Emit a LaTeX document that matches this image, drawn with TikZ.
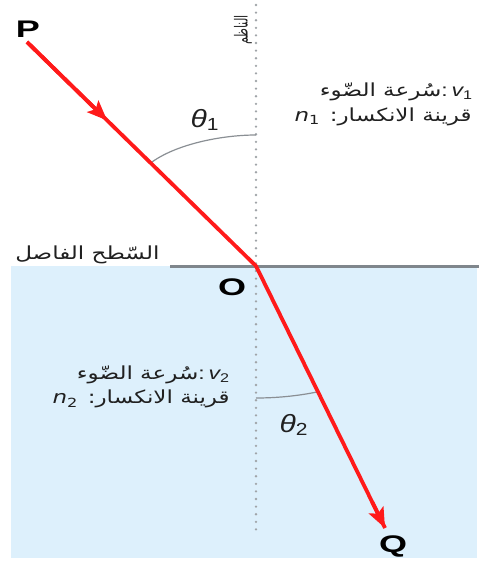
\documentclass[tikz,border=0pt]{standalone}
\usepackage{fontspec}
\setmainfont{Liberation Sans}
\newfontfamily\arabicfont[Script=Arabic]{DejaVu Sans}
\TeXXeTstate=1
\usetikzlibrary{arrows.meta,calc}
\definecolor{water}{HTML}{DDF0FC}
\definecolor{raycol}{HTML}{FF1A1A}
\definecolor{surf}{HTML}{7F868C}
\definecolor{arcg}{HTML}{8A8F94}
\definecolor{dotg}{HTML}{A0A4A8}
\definecolor{txt}{HTML}{202020}
\newcommand\artext[1]{{\arabicfont\beginR #1\endR}}
\newcommand\symb[2]{{\itshape #1}\textsubscript{#2}}
\tikzset{
  rayline/.style={raycol, line width=3.8pt},
  tip/.style={-{Stealth[length=20pt,width=16pt,inset=4pt]}},
  ptlabel/.style={font=\fontsize{24}{24}\selectfont\bfseries, inner sep=0pt, xscale=1.5},
  anglabel/.style={font=\fontsize{25}{25}\selectfont, text=txt, inner sep=0pt, xscale=1.2},
  artxt/.style={font=\fontsize{18}{18}\selectfont, text=txt, inner sep=0pt, xscale=1.28},
  anglearc/.style={arcg, line width=1.2pt},
  normalline/.style={dotg, line width=2.6pt, line cap=round, dash pattern=on 0pt off 7.6pt}
}
\begin{document}
\begin{tikzpicture}[x=1pt,y=-1pt]
\useasboundingbox (0,0) rectangle (479,563);
% lower medium
\fill[water] (11,266) rectangle (477,558);
% interface
\draw[surf, line width=3pt] (170,266) -- (479,266);
% normal
\draw[normalline] (256,5) -- (256,532);
% ray points
\coordinate (S) at (27,42);
\coordinate (O) at (256,266);
\coordinate (E) at (385,528);
\coordinate (M) at ($(S)!0.35!(O)$);
% angle arcs
\coordinate (N1) at (256,135);
\coordinate (R1) at ($(S)!0.54!(O)$);
\draw[anglearc] (N1) .. controls (222,135) and (176,144) .. (R1);
\coordinate (N2) at (256,398);
\coordinate (R2) at ($(O)!0.48!(E)$);
\draw[anglearc] (N2) .. controls (276,398) and (298,396) .. (R2);
% rays
\draw[rayline] (S) -- (O) -- (E);
\draw[rayline, tip] (S) -- (M);
\draw[rayline, tip] ($(O)!0.9!(E)$) -- (E);
% point labels
\node[ptlabel] (P) at (28,29) {P};
\node[ptlabel] (Ol) at (232,287) {O};
\node[ptlabel] (Q) at (393,546) {Q};
% angle labels
\node[anglabel] (t1) at (205,120) {\symb{θ}{1}};
\node[anglabel] (t2) at (294,425) {\symb{θ}{2}};
% Arabic texts
\node[artxt, anchor=east] (v1) at (473,92) {\artext{سُرعة الضّوء}:\,\symb{v}{1}};
\node[artxt, anchor=east] (n1) at (472,117) {\artext{قرينة الانكسار: \beginL\symb{n}{1}\endL}};
\node[artxt, anchor=east] (v2) at (230,375) {\artext{سُرعة الضّوء}:\,\symb{v}{2}};
\node[artxt, anchor=east] (n2) at (230,399) {\artext{قرينة الانكسار: \beginL\symb{n}{2}\endL}};
\node[artxt, anchor=west] (surfl) at (15,255) {\artext{السّطح الفاصل}};
\node[artxt, rotate=90, xscale=0.8, font=\fontsize{14}{14}\selectfont] (norml) at (243,30) {\artext{الناظم}};
\end{tikzpicture}
\end{document}
